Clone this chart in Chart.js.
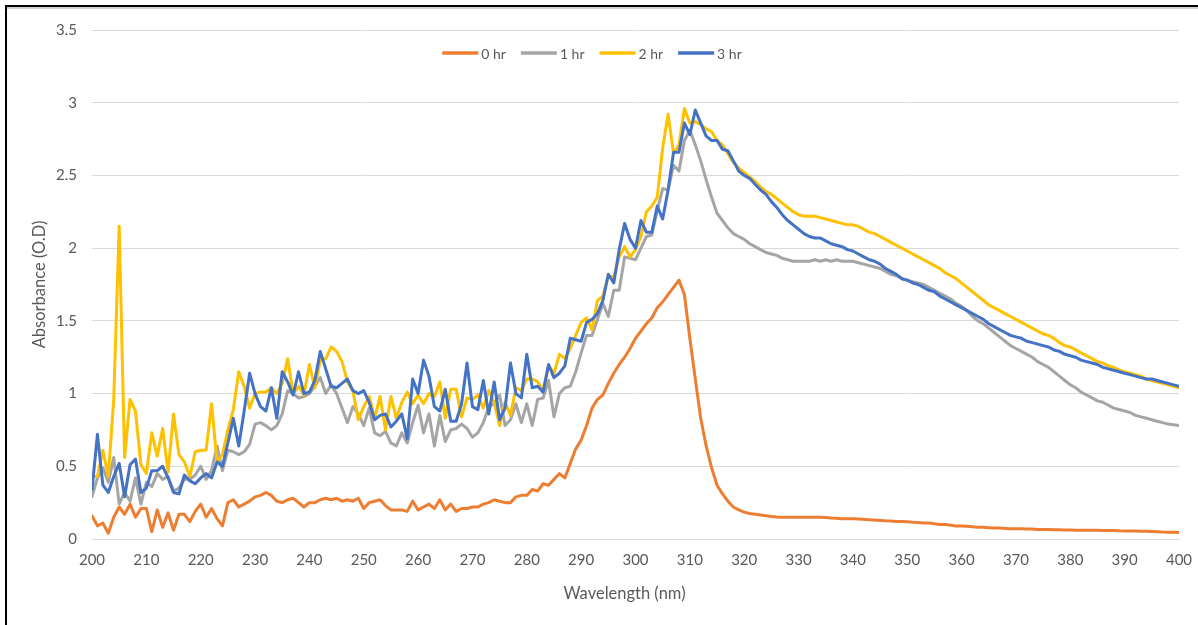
<!DOCTYPE html>
<html><head><meta charset="utf-8">
<script src="https://cdn.jsdelivr.net/npm/chart.js@4"></script>
<style>
html,body{margin:0;padding:0;background:#fff;}
#wrap{position:relative;width:1198px;height:625px;overflow:hidden;background:#fff;}
canvas{position:absolute;left:0;top:0;}
#frame{position:absolute;left:5px;top:5px;right:-10px;bottom:-10px;border-top:2px solid #000;border-left:2px solid #000;box-shadow:inset 0 2px 0 #d4d4d4;pointer-events:none;}
</style></head>
<body><div id="wrap"><canvas id="c" width="1198" height="625"></canvas><div id="frame"></div></div>
<script>
const wavelengths = [
200,201,202,203,204,205,206,207,208,209,210,211,212,213,214,215,216,217,218,219,
220,221,222,223,224,225,226,227,228,229,230,231,232,233,234,235,236,237,238,239,
240,241,242,243,244,245,246,247,248,249,250,251,252,253,254,255,256,257,258,259,
260,261,262,263,264,265,266,267,268,269,270,271,272,273,274,275,276,277,278,279,
280,281,282,283,284,285,286,287,288,289,290,291,292,293,294,295,296,297,298,299,
300,301,302,303,304,305,306,307,308,309,310,311,312,313,314,315,316,317,318,319,
320,321,322,323,324,325,326,327,328,329,330,331,332,333,334,335,336,337,338,339,
340,341,342,343,344,345,346,347,348,349,350,351,352,353,354,355,356,357,358,359,
360,361,362,363,364,365,366,367,368,369,370,371,372,373,374,375,376,377,378,379,
380,381,382,383,384,385,386,387,388,389,390,391,392,393,394,395,396,397,398,399,400];

const seriesLabels = ['0 hr','1 hr','2 hr','3 hr'];
const seriesColors = ['#ED7D31','#A5A5A5','#FFC000','#4472C4'];

const hr0 = [
0.16,0.09,0.11,0.04,0.15,0.22,0.17,0.24,0.15,0.21,
0.21,0.05,0.20,0.08,0.18,0.06,0.17,0.17,0.12,0.19,
0.24,0.15,0.21,0.14,0.09,0.25,0.27,0.22,0.24,0.26,
0.29,0.30,0.32,0.30,0.26,0.25,0.27,0.28,0.25,0.22,
0.25,0.25,0.27,0.28,0.27,0.28,0.26,0.27,0.26,0.28,
0.21,0.25,0.26,0.27,0.23,0.20,0.20,0.20,0.19,0.26,
0.20,0.22,0.24,0.21,0.27,0.20,0.24,0.19,0.21,0.21,
0.22,0.22,0.24,0.25,0.27,0.26,0.25,0.25,0.29,0.30,
0.30,0.34,0.33,0.38,0.37,0.41,0.45,0.42,0.52,0.62,
0.68,0.78,0.90,0.96,0.99,1.07,1.14,1.20,1.25,1.31,
1.38,1.43,1.48,1.52,1.59,1.63,1.68,1.73,1.78,1.68,
1.38,1.10,0.83,0.64,0.49,0.37,0.31,0.26,0.22,0.20,
0.185,0.175,0.17,0.165,0.16,0.155,0.152,0.15,0.15,0.15,
0.15,0.15,0.15,0.15,0.15,0.148,0.145,0.143,0.14,0.14,
0.14,0.138,0.135,0.133,0.13,0.128,0.125,0.123,0.12,0.12,
0.118,0.115,0.113,0.11,0.11,0.105,0.10,0.10,0.095,0.09,
0.09,0.088,0.085,0.08,0.08,0.078,0.075,0.075,0.073,0.07,
0.07,0.07,0.068,0.068,0.066,0.065,0.065,0.063,0.063,0.062,
0.062,0.061,0.06,0.06,0.06,0.06,0.058,0.058,0.058,0.056,
0.055,0.055,0.055,0.054,0.053,0.052,0.05,0.048,0.047,0.046,
0.045];

const hr1 = [
0.29,0.42,0.49,0.39,0.56,0.24,0.32,0.26,0.42,0.24,
0.39,0.36,0.45,0.41,0.43,0.33,0.35,0.41,0.41,0.44,
0.50,0.41,0.47,0.64,0.47,0.61,0.60,0.58,0.60,0.65,
0.79,0.80,0.78,0.75,0.78,0.86,1.02,1.00,0.97,0.98,
1.00,1.05,1.11,1.00,1.06,1.00,0.90,0.80,0.91,0.86,
0.78,0.90,0.73,0.71,0.74,0.66,0.64,0.73,0.66,0.80,
0.92,0.73,0.86,0.64,0.85,0.67,0.75,0.76,0.79,0.76,
0.70,0.73,0.80,0.91,0.93,0.99,0.78,0.82,0.93,0.80,
0.93,0.78,0.96,0.97,1.09,0.84,1.00,1.04,1.05,1.15,
1.28,1.40,1.40,1.51,1.62,1.53,1.71,1.71,1.94,1.93,
1.92,2.00,2.08,2.09,2.26,2.41,2.40,2.57,2.53,2.74,
2.81,2.71,2.60,2.47,2.35,2.24,2.19,2.14,2.10,2.08,
2.06,2.03,2.01,1.99,1.97,1.96,1.95,1.93,1.92,1.91,
1.91,1.91,1.91,1.92,1.91,1.92,1.91,1.92,1.91,1.91,
1.91,1.90,1.89,1.88,1.87,1.86,1.84,1.82,1.81,1.79,
1.78,1.77,1.76,1.75,1.73,1.71,1.69,1.67,1.65,1.62,
1.60,1.57,1.53,1.50,1.48,1.45,1.42,1.39,1.36,1.33,
1.31,1.29,1.27,1.25,1.22,1.20,1.18,1.15,1.12,1.09,
1.06,1.04,1.01,0.99,0.97,0.95,0.94,0.92,0.90,0.89,
0.88,0.87,0.85,0.84,0.83,0.82,0.81,0.80,0.79,0.785,
0.78];

const hr2 = [
0.43,0.43,0.61,0.43,0.96,2.15,0.56,0.96,0.88,0.51,
0.45,0.73,0.57,0.76,0.46,0.86,0.58,0.53,0.43,0.60,
0.61,0.61,0.93,0.53,0.58,0.75,0.89,1.15,1.05,0.90,
1.00,1.01,1.01,1.04,1.00,1.07,1.24,1.00,1.05,0.99,
1.20,1.04,1.23,1.24,1.32,1.29,1.22,1.08,1.02,0.82,
0.91,0.98,0.83,0.98,0.75,0.98,0.83,0.94,1.01,0.93,
0.99,0.93,1.00,0.98,1.08,0.83,1.03,1.03,0.84,0.97,
0.96,0.99,0.90,1.02,0.94,0.78,0.94,0.85,1.04,1.02,
1.10,1.10,1.08,1.02,1.19,1.14,1.27,1.24,1.31,1.40,
1.49,1.52,1.44,1.64,1.67,1.81,1.80,1.94,2.01,1.94,
1.99,2.08,2.25,2.29,2.35,2.69,2.92,2.65,2.71,2.96,
2.86,2.87,2.85,2.82,2.80,2.74,2.71,2.65,2.59,2.55,
2.52,2.49,2.46,2.42,2.39,2.37,2.34,2.31,2.28,2.25,
2.23,2.22,2.22,2.22,2.21,2.20,2.19,2.18,2.17,2.16,
2.16,2.15,2.13,2.11,2.10,2.08,2.06,2.04,2.02,2.00,
1.98,1.96,1.94,1.92,1.90,1.88,1.86,1.83,1.81,1.79,
1.76,1.73,1.70,1.67,1.64,1.61,1.59,1.57,1.55,1.53,
1.51,1.49,1.47,1.45,1.43,1.41,1.40,1.38,1.35,1.33,
1.32,1.30,1.28,1.26,1.24,1.22,1.21,1.19,1.18,1.16,
1.15,1.14,1.13,1.12,1.10,1.09,1.08,1.07,1.06,1.05,
1.04];

const hr3 = [
0.34,0.72,0.37,0.32,0.43,0.52,0.29,0.51,0.55,0.32,
0.35,0.47,0.47,0.50,0.42,0.32,0.31,0.44,0.40,0.38,
0.42,0.45,0.42,0.53,0.50,0.66,0.83,0.64,0.88,1.14,
1.00,0.91,0.88,1.04,0.83,1.15,1.08,0.99,1.15,1.00,
1.01,1.09,1.29,1.17,1.05,1.04,1.07,1.10,1.02,1.00,
1.02,0.94,0.82,0.85,0.86,0.77,0.81,0.86,0.69,1.10,
1.00,1.23,1.12,0.91,0.88,1.03,0.81,0.81,0.93,1.21,
0.91,0.89,1.09,0.86,1.08,0.82,0.90,1.21,1.00,0.97,
1.27,1.04,1.05,1.01,1.20,1.11,1.14,1.19,1.38,1.37,
1.36,1.49,1.51,1.55,1.64,1.82,1.76,1.99,2.17,2.06,
2.00,2.19,2.11,2.11,2.29,2.20,2.40,2.66,2.66,2.86,
2.78,2.95,2.86,2.77,2.74,2.74,2.68,2.67,2.60,2.53,
2.50,2.48,2.44,2.40,2.37,2.32,2.28,2.23,2.19,2.16,
2.13,2.10,2.08,2.07,2.07,2.05,2.03,2.02,2.01,1.99,
1.98,1.96,1.94,1.92,1.91,1.89,1.86,1.84,1.82,1.79,
1.78,1.76,1.75,1.73,1.71,1.70,1.67,1.65,1.63,1.61,
1.59,1.57,1.55,1.53,1.51,1.48,1.46,1.44,1.42,1.40,
1.39,1.38,1.36,1.35,1.34,1.33,1.32,1.30,1.29,1.27,
1.26,1.25,1.23,1.22,1.21,1.20,1.18,1.17,1.16,1.15,
1.14,1.13,1.12,1.11,1.10,1.10,1.09,1.08,1.07,1.06,
1.05];

const seriesValues = [hr0, hr1, hr2, hr3];
const xTickValues = [200,210,220,230,240,250,260,270,280,290,300,310,320,330,340,350,360,370,380,390,400];
const yTickLabels = ['0','0.5','1','1.5','2','2.5','3','3.5'];
const xTitle = 'Wavelength (nm)';
const yTitle = 'Absorbance (O.D)';

const FONT = "Lato, 'Open Sans', 'DejaVu Sans', sans-serif";
const TXT = '#595959';

const legendPlugin = {
  id: 'customLegend',
  afterDraw(chart) {
    const ctx = chart.ctx;
    ctx.save();
    ctx.font = '14px ' + FONT;
    const lineLen = 36, gap = 3, itemGap = 15, cx = 592, cy = 53;
    const items = chart.data.datasets.map(d => ({label: d.label, color: d.borderColor, w: ctx.measureText(d.label).width}));
    const total = items.reduce((a, it) => a + lineLen + gap + it.w, 0) + itemGap * (items.length - 1);
    let x = cx - total / 2;
    items.forEach(it => {
      ctx.strokeStyle = it.color; ctx.lineWidth = 3.5; ctx.lineCap = 'butt';
      ctx.beginPath(); ctx.moveTo(x, cy); ctx.lineTo(x + lineLen, cy); ctx.stroke();
      x += lineLen + gap;
      ctx.fillStyle = TXT; ctx.textBaseline = 'middle'; ctx.textAlign = 'left';
      ctx.fillText(it.label, x, cy + 1);
      x += it.w + itemGap;
    });
    // x-axis title (Excel centres it slightly left of the plot centre)
    ctx.font = '16.5px ' + FONT;
    ctx.textAlign = 'center';
    ctx.textBaseline = 'middle';
    ctx.fillStyle = TXT;
    ctx.fillText(xTitle, 624.5, 594);
    ctx.restore();
  }
};

const datasets = seriesValues.map((vals, i) => ({
  label: seriesLabels[i],
  data: vals.map((v, j) => ({x: wavelengths[j], y: v})),
  borderColor: seriesColors[i],
  backgroundColor: seriesColors[i],
  borderWidth: 3,
  pointRadius: 0,
  tension: 0,
  order: seriesValues.length - i,
  borderJoinStyle: 'round',
  borderCapStyle: 'round'
}));

new Chart(document.getElementById('c').getContext('2d'), {
  type: 'line',
  data: {datasets},
  options: {
    responsive: false,
    animation: false,
    devicePixelRatio: 1,
    layout: {padding: {left: 0, right: 19, top: 30, bottom: 0}},
    plugins: {legend: {display: false}, tooltip: {enabled: false}},
    scales: {
      x: {
        type: 'linear', min: 200, max: 400,
        afterBuildTicks: s => { s.ticks = xTickValues.map(v => ({value: v})); },
        ticks: {color: TXT, font: {family: FONT, size: 15}, padding: 12, maxRotation: 0, autoSkip: false,
                callback: v => String(v)},
        grid: {display: false, drawTicks: false},
        border: {display: true, color: '#d9d9d9', width: 1},
        title: {display: false, text: xTitle},
        afterFit: s => { s.height = 86; s.paddingLeft = 0; s.paddingRight = 0; }
      },
      y: {
        min: 0, max: 3.5,
        afterBuildTicks: s => { s.ticks = yTickLabels.map(l => ({value: parseFloat(l)})); },
        ticks: {color: TXT, font: {family: FONT, size: 15}, padding: 15,
                callback: (v, idx) => yTickLabels[idx]},
        grid: {color: '#d9d9d9', lineWidth: 1, drawTicks: false},
        border: {display: false},
        title: {display: true, text: yTitle, color: TXT, font: {family: FONT, size: 16.5}, padding: {top: 30, bottom: 0}},
        afterFit: s => { s.width = 92; s.paddingTop = 0; s.paddingBottom = 0; }
      }
    }
  },
  plugins: [legendPlugin]
});
</script>
</body></html>
